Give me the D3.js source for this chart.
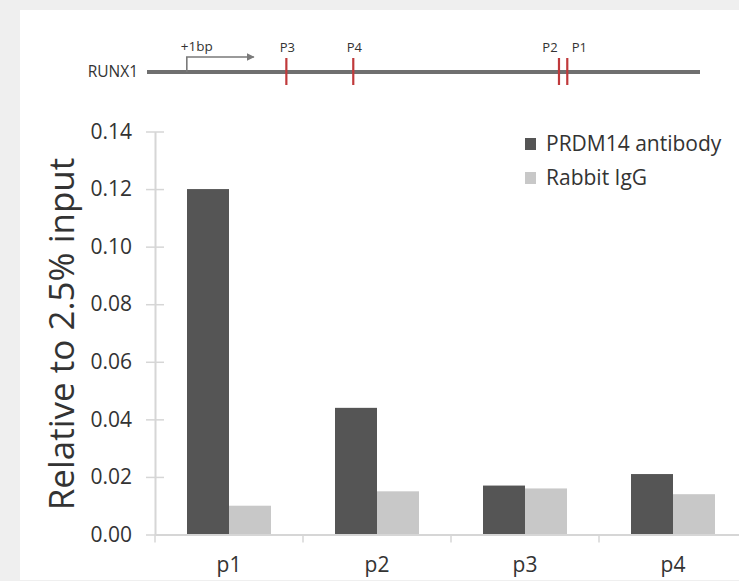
<!DOCTYPE html>
<html>
<head>
<meta charset="utf-8">
<script src="https://cdn.jsdelivr.net/npm/d3@7"></script>
<style>
  body { margin: 0; background: #efefef; }
  svg text { font-family: "Open Sans", sans-serif; fill: #333; }
</style>
</head>
<body>
<div id="wrapper"></div>
<script>
// chart values
const categories = ["p1", "p2", "p3", "p4"]
const seriesNames = ["PRDM14 antibody", "Rabbit IgG"]
const prdm14 = [0.120, 0.044, 0.017, 0.021]
const rabbitIgG = [0.010, 0.015, 0.016, 0.014]
const yTicks = [0, 0.02, 0.04, 0.06, 0.08, 0.10, 0.12, 0.14]

// gene diagram (relative position along RUNX1, 0..100)
const geneName = "RUNX1"
const tssPos = 7.2
const tssLabel = "+1bp"
const sites = [
    { name: "P3", pos: 25.2 },
    { name: "P4", pos: 37.3 },
    { name: "P2", pos: 74.5 },
    { name: "P1", pos: 76.0 }
]

function drawPlot() {
    let dimensions = {
        width: 739,
        height: 581,
        margin: { top: 131.5, right: -6, bottom: 46.5, left: 155 }
    }
    dimensions.boundedWidth = dimensions.width - dimensions.margin.left - dimensions.margin.right
    dimensions.boundedHeight = dimensions.height - dimensions.margin.top - dimensions.margin.bottom

    const svg = d3.select("#wrapper")
        .append("svg")
        .attr("width", dimensions.width)
        .attr("height", dimensions.height)
        .style("display", "block")

    // white panel
    svg.append("rect")
        .attr("x", 20).attr("y", 10)
        .attr("width", dimensions.width - 20)
        .attr("height", 570)
        .attr("fill", "#fff")

    //! gene diagram
    const geneScale = d3.scaleLinear().domain([0, 100]).range([147, 700])
    const geneY = 72
    const gene = svg.append("g")

    gene.append("text")
        .attr("x", 138).attr("y", geneY)
        .attr("dy", "0.35em")
        .attr("text-anchor", "end")
        .style("font-size", "15.5px")
        .text(geneName)

    gene.append("line")
        .attr("x1", geneScale(0)).attr("x2", geneScale(100))
        .attr("y1", geneY).attr("y2", geneY)
        .attr("stroke", "#6f6f6f")
        .attr("stroke-width", 4)

    svg.append("defs").append("marker")
        .attr("id", "arrow")
        .attr("viewBox", "0 0 10 10")
        .attr("refX", 9).attr("refY", 5)
        .attr("markerWidth", 5).attr("markerHeight", 5)
        .attr("orient", "auto")
        .append("path")
        .attr("d", "M0,0 L10,5 L0,10 z")
        .attr("fill", "#7a7a7a")

    gene.append("path")
        .attr("d", `M${geneScale(tssPos)},${geneY} V${geneY - 15} H${geneScale(tssPos) + 67}`)
        .attr("fill", "none")
        .attr("stroke", "#7a7a7a")
        .attr("stroke-width", 1.6)
        .attr("marker-end", "url(#arrow)")

    gene.append("text")
        .attr("x", geneScale(tssPos) - 6).attr("y", geneY - 21)
        .style("font-size", "13.5px")
        .text(tssLabel)

    gene.selectAll(".site")
        .data(sites)
        .join("line")
        .attr("x1", d => geneScale(d.pos)).attr("x2", d => geneScale(d.pos))
        .attr("y1", geneY - 14).attr("y2", geneY + 13)
        .attr("stroke", "#c0393b")
        .attr("stroke-width", 2.2)

    gene.selectAll(".siteLabel")
        .data(sites)
        .join("text")
        .attr("x", d => geneScale(d.pos) + (d.name === "P2" ? -9 : d.name === "P1" ? 12 : 1))
        .attr("y", geneY - 20)
        .attr("text-anchor", "middle")
        .style("font-size", "13px")
        .text(d => d.name)

    //! chart bounds
    const bounds = svg.append("g")
        .attr("transform", `translate(${dimensions.margin.left},${dimensions.margin.top})`)

    const yScale = d3.scaleLinear()
        .domain([0, 0.14])
        .range([dimensions.boundedHeight, 0])

    const x0 = d3.scaleBand()
        .domain(categories)
        .range([0, 148 * categories.length])
        .padding(0)

    const x1 = d3.scaleBand()
        .domain(seriesNames)
        .range([0, x0.bandwidth()])
        .paddingInner(0)
        .paddingOuter(0.762)

    const colorScale = d3.scaleOrdinal()
        .domain(seriesNames)
        .range(["#555555", "#c8c8c8"])

    const rows = categories.map((c, i) => ({
        category: c,
        values: [
            { key: seriesNames[0], value: prdm14[i] },
            { key: seriesNames[1], value: rabbitIgG[i] }
        ]
    }))

    // y axis
    const yAxis = d3.axisLeft(yScale)
        .tickValues(yTicks)
        .tickFormat(d3.format(".2f"))
        .tickSizeInner(9)
        .tickSizeOuter(0)
        .tickPadding(14)
    const yAxisG = bounds.append("g").call(yAxis)
    yAxisG.select(".domain").attr("stroke", "#d6d6d6").attr("stroke-width", 2)
    yAxisG.selectAll(".tick line").attr("x1", 9).attr("stroke", "#d6d6d6").attr("stroke-width", 1.5)
    yAxisG.selectAll(".tick text")
        .style("font-size", "21px")
        .style("font-family", "Open Sans, sans-serif")
        .attr("fill", "#404040")

    // bars
    bounds.append("g")
        .selectAll("g")
        .data(rows)
        .join("g")
        .attr("transform", d => `translate(${x0(d.category)},0)`)
        .selectAll("rect")
        .data(d => d.values)
        .join("rect")
        .attr("x", d => x1(d.key))
        .attr("width", x1.bandwidth())
        .attr("y", d => yScale(d.value))
        .attr("height", d => yScale(0) - yScale(d.value))
        .attr("fill", d => colorScale(d.key))

    // x axis
    const xAxis = d3.axisBottom(x0).tickSize(0).tickPadding(23)
    const xAxisG = bounds.append("g")
        .attr("transform", `translate(0,${dimensions.boundedHeight})`)
        .call(xAxis)
    xAxisG.select(".domain").attr("stroke", "#d6d6d6").attr("stroke-width", 2)
    xAxisG.selectAll(".tick text")
        .style("font-size", "21px")
        .style("font-family", "Open Sans, sans-serif")
        .attr("fill", "#404040")
    // tick marks between categories
    xAxisG.selectAll(".divider")
        .data(categories)
        .join("line")
        .attr("x1", d => x0(d)).attr("x2", d => x0(d))
        .attr("y1", 0).attr("y2", 8)
        .attr("stroke", "#d6d6d6")
        .attr("stroke-width", 1.5)

    // y title
    svg.append("text")
        .attr("transform", `translate(74,334) rotate(-90)`)
        .attr("text-anchor", "middle")
        .style("font-size", "35px")
        .attr("fill", "#333")
        .text("Relative to 2.5% input")

    //! legend
    const legend = svg.append("g")
        .selectAll("g")
        .data(seriesNames)
        .join("g")
        .attr("transform", (d, i) => `translate(525,${144 + i * 34})`)
    legend.append("rect")
        .attr("x", 0).attr("y", -6)
        .attr("width", 11).attr("height", 12)
        .attr("fill", d => colorScale(d))
    legend.append("text")
        .attr("x", 21).attr("dy", "0.35em")
        .style("font-size", "21px")
        .attr("fill", "#333")
        .text(d => d)
}

drawPlot()
</script>
</body>
</html>
